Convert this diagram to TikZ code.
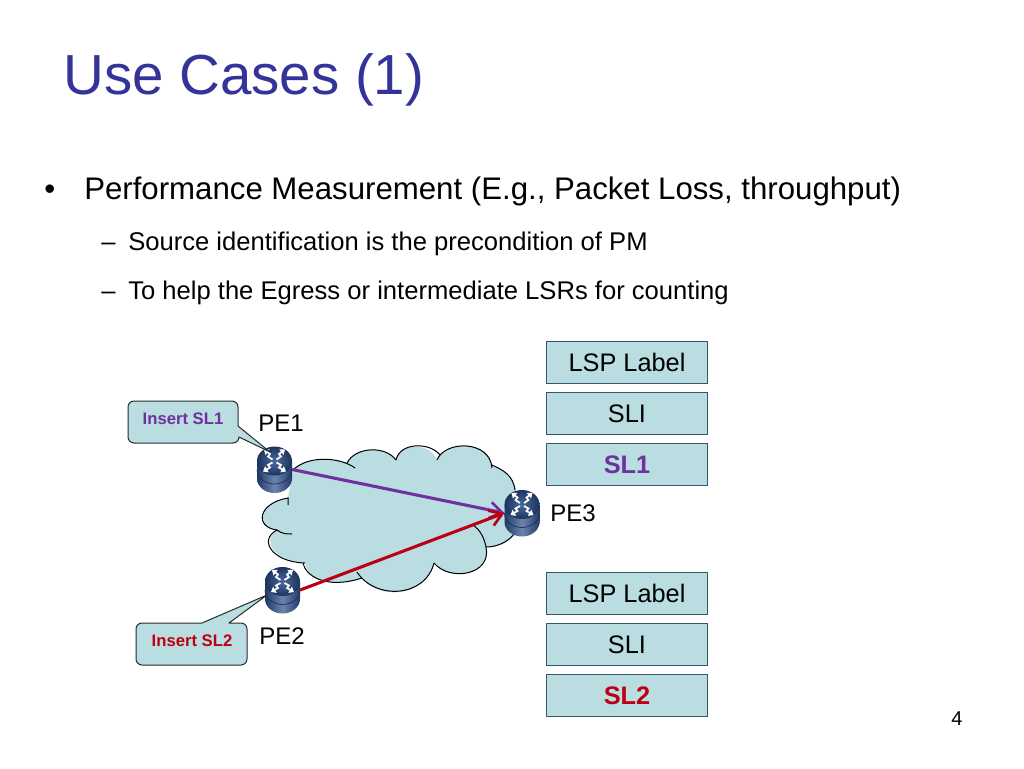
\documentclass[tikz,border=0pt]{standalone}
\usepackage{fontspec}
\setmainfont{Liberation Sans}
\usetikzlibrary{arrows.meta,shapes.geometric,calc}
\definecolor{titleblue}{HTML}{333399}
\definecolor{aqua}{HTML}{B9DDE1}
\definecolor{boxline}{HTML}{35566B}
\definecolor{slpurple}{HTML}{7030A0}
\definecolor{slred}{HTML}{BC0014}
\definecolor{rdark}{HTML}{1F3A68}
\definecolor{rmid}{HTML}{4A6A9C}
\definecolor{rlight}{HTML}{7F97BC}
\tikzset{
  x=0.75pt,y=-0.75pt,
  titletext/.style={anchor=base west,inner sep=0,text=titleblue,font=\fontsize{42.35}{48}\selectfont},
  bodytext/.style={anchor=base west,inner sep=0,font=\fontsize{23.4}{28}\selectfont},
  subtext/.style={anchor=base west,inner sep=0,font=\fontsize{19.2}{22}\selectfont},
  stackbox/.style={draw=boxline,line width=0.9pt,fill=aqua,minimum width=121pt,minimum height=32pt,inner sep=0,font=\fontsize{19}{22}\selectfont},
  routerslot/.style={minimum width=26pt,minimum height=34pt,inner sep=0},
  pelabel/.style={inner sep=0,font=\fontsize{18}{22}\selectfont},
  callouttext/.style={inner sep=0,font=\bfseries\fontsize{12.5}{15}\selectfont},
  calloutshape/.style={draw=black!80!aqua,line width=0.75pt,fill=aqua,line join=round},
  cloudline/.style={draw=black,line width=0.75pt},
  flow/.style={line width=2.3pt,-{Straight Barb[length=9pt,width=12pt,line width=2pt]}},
  rarrow/.style={draw=white,line width=1.3pt,-{Triangle[length=3.4pt,width=5.2pt]},line cap=butt,line join=miter},
  routericon/.pic={
    \shade[left color=rdark,right color=rdark,middle color=rlight!80!rdark]
      (-17.5,-8.5) -- (-17.5,9) arc[x radius=17.5,y radius=-14.5,start angle=180,end angle=360] -- (17.5,-8.5) -- cycle;
    \draw[rdark!85!black,line width=0.5pt] (-17.5,0) arc[x radius=17.5,y radius=-14.5,start angle=180,end angle=360];
    \shade[inner color=rmid,outer color=rdark!90!black]
      (0,-8.5) ellipse[x radius=17.5,y radius=14.5];
    \draw[rarrow] (-2,-10) -- (-6.5,-13) -- (-4.5,-15.5) -- (-10.5,-20);
    \draw[rarrow] (2,-10) -- (6.5,-13) -- (4.5,-15.5) -- (10.5,-20);
    \draw[rarrow] (-2,-7) -- (-6.5,-4.5) -- (-4.5,-2) -- (-11.5,2);
    \draw[rarrow] (2,-7) -- (6.5,-4.5) -- (4.5,-2) -- (11.5,2);
  }
}
\begin{document}
\begin{tikzpicture}
\useasboundingbox[fill=white] (0,0) rectangle (1024,768);
% title and text
\node[titletext] (title) at (63,94) {Use Cases (1)};
\node[bodytext] (b1) at (44,199) {•};
\node[bodytext] (b1t) at (84,199) {Performance Measurement (E.g., Packet Loss, throughput)};
\node[subtext] (d1) at (101,250) {–};
\node[subtext] (s1) at (128,250) {Source identification is the precondition of PM};
\node[subtext] (d2) at (101,299) {–};
\node[subtext] (s2) at (128,299) {To help the Egress or intermediate LSRs for counting};
\node[anchor=base,inner sep=0,font=\fontsize{15}{18}\selectfont] (pageno) at (957,725) {4};
% cloud
\path[fill=aqua] (288,498) .. controls (258,503) and (254,527) .. (277,530)
  .. controls (262,540) and (272,560) .. (305,563)
  .. controls (305,575) and (325,590) .. (362,578)
  .. controls (378,600) and (425,598) .. (434,563)
  .. controls (450,582) and (490,575) .. (486,547)
  .. controls (505,547) and (513,538) .. (516,530)
  -- (516,490)
  .. controls (513,475) and (503,470) .. (492,466)
  .. controls (490,440) and (445,440) .. (437,460)
  .. controls (430,442) and (400,442) .. (396,460)
  .. controls (385,445) and (355,447) .. (347,463)
  .. controls (335,457) and (305,458) .. (293,470) -- cycle;
\draw[cloudline] (288,505) .. controls (288,502) and (288,500) .. (288,498)
  .. controls (258,503) and (254,527) .. (277,530) .. controls (282,534) and (287,534) .. (292,534);
\draw[cloudline] (277,530) .. controls (258,540) and (272,562) .. (305,563);
\draw[cloudline] (303,563) .. controls (305,575) and (325,590) .. (362,578);
\draw[cloudline] (357,572) .. controls (375,600) and (425,598) .. (434,563);
\draw[cloudline] (434,563) .. controls (450,582) and (492,575) .. (486,547) .. controls (484,537) and (480,530) .. (473,525);
\draw[cloudline] (486,547) .. controls (497,547) and (508,542) .. (514,534);
\draw[cloudline] (515,490) .. controls (513,475) and (503,470) .. (492,465);
\draw[cloudline] (492,468) .. controls (490,440) and (445,440) .. (437,460);
\draw[cloudline] (440,455) .. controls (430,442) and (400,442) .. (396,460);
\draw[cloudline] (396,460) .. controls (385,445) and (355,447) .. (347,463);
\draw[cloudline] (355,468) .. controls (340,457) and (308,455) .. (293,470);
% routers
\node[routerslot] (pe1) at (274.5,469.5) {};
\node[routerslot] (pe2) at (282.5,590) {};
\node[routerslot] (pe3) at (522,513) {};
\pic at (pe1) {routericon};
\pic at (pe2) {routericon};
\pic at (pe3) {routericon};
% connectors
\draw[flow,draw=slpurple] (pe1.east) -- (pe3.west);
\draw[flow,draw=slred] (pe2.east) -- (pe3.west);
% labels
\node[pelabel] (pe1l) at (281,423) {PE1};
\node[pelabel] (pe2l) at (282,636) {PE2};
\node[pelabel] (pe3l) at (573,513) {PE3};
% callouts
\coordinate (tip1) at (270,452);
\coordinate (tip2) at (267,595);
\draw[calloutshape] (134,401) -- (232,401) arc[start angle=90,end angle=0,x radius=6,y radius=-6] -- (238,426) -- (tip1) -- (239,437)
  arc[start angle=0,end angle=-90,x radius=6,y radius=-6] -- (134,443) arc[start angle=-90,end angle=-180,x radius=6,y radius=-6] -- (128,407) arc[start angle=180,end angle=90,x radius=6,y radius=-6] -- cycle;
\draw[calloutshape] (142,623) -- (202,623) -- (tip2) -- (229,623) -- (241,623) arc[start angle=90,end angle=0,x radius=6,y radius=-6] -- (247,659)
  arc[start angle=0,end angle=-90,x radius=6,y radius=-6] -- (142,665) arc[start angle=-90,end angle=-180,x radius=6,y radius=-6] -- (136,629) arc[start angle=180,end angle=90,x radius=6,y radius=-6] -- cycle;
\node[callouttext,text=slpurple] (c1) at (183,419) {Insert SL1};
\node[callouttext,text=slred] (c2) at (192,641) {Insert SL2};
% stacks
\node[stackbox] (a1) at (627,362.5) {LSP Label};
\node[stackbox] (a2) at (627,413.5) {SLI};
\node[stackbox,text=slpurple,font=\bfseries\fontsize{19}{22}\selectfont] (a3) at (627,464.5) {SL1};
\node[stackbox] (b1box) at (627,593.5) {LSP Label};
\node[stackbox] (b2box) at (627,644.5) {SLI};
\node[stackbox,text=slred,font=\bfseries\fontsize{19}{22}\selectfont] (b3box) at (627,695.5) {SL2};
\end{tikzpicture}
\end{document}
